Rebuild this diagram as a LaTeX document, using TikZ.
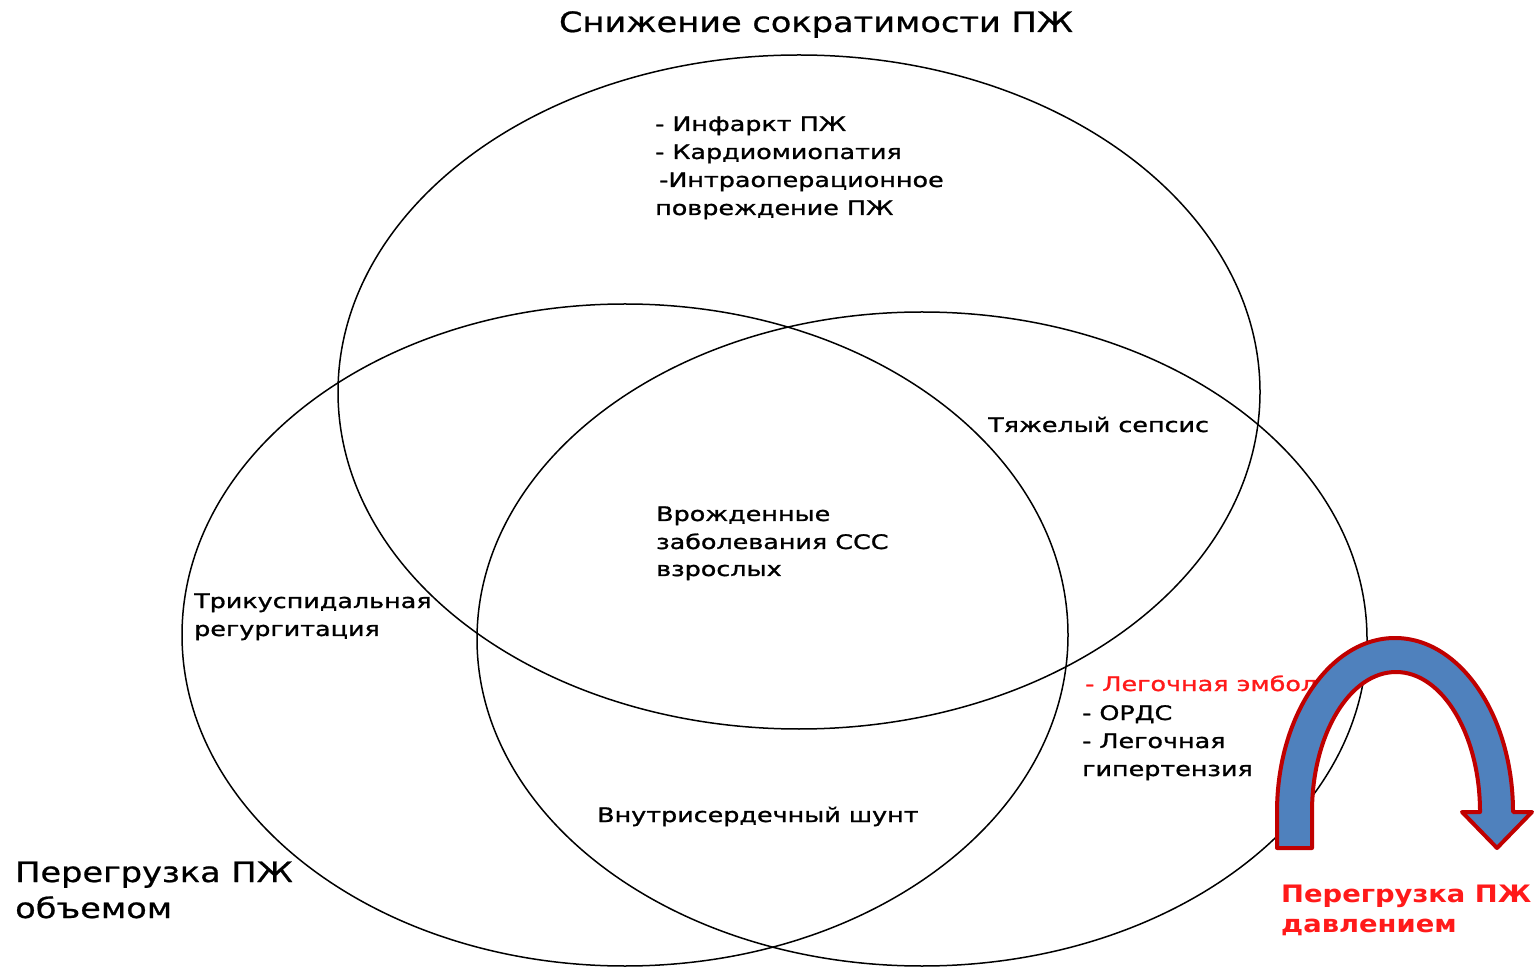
\documentclass[tikz,border=0pt]{standalone}
\usepackage{fontspec}
\setmainfont{DejaVu Sans}
\newfontfamily\bodyfont[FakeStretch=1.27,FakeBold=1.2]{DejaVu Sans}
\newfontfamily\titlefont[FakeStretch=1.2,FakeBold=0.8]{DejaVu Sans}
\newfontfamily\redfont[FakeStretch=1.14]{DejaVu Sans}
\definecolor{arrowblue}{HTML}{4F81BD}
\definecolor{arrowred}{HTML}{C00000}
\definecolor{txtred}{HTML}{FF1A1A}
\begin{document}
\begin{tikzpicture}[x=1pt,y=1pt,
  venn/.style={draw=black,line width=1.5pt},
  lbl/.style={anchor=base west,inner sep=0pt,font=\bodyfont\fontsize{20}{24}\selectfont},
  big/.style={anchor=base west,inner sep=0pt,font=\titlefont\fontsize{28}{32}\selectfont},
  redlbl/.style={anchor=base west,inner sep=0pt,text=txtred,font=\redfont\fontsize{24}{28}\selectfont\bfseries},
  bendarrow/.style={fill=arrowblue,draw=arrowred,line width=4pt,line join=round}]
\useasboundingbox (0,0) rectangle (1538,967);
% ellipses
\draw[venn] (799,575) ellipse[x radius=461,y radius=337];
\draw[venn] (625,332) ellipse[x radius=443,y radius=331];
\draw[venn] (922,328) ellipse[x radius=445,y radius=327];
% title
\node[anchor=base,inner sep=0pt,font=\titlefont\fontsize{28}{32}\selectfont] (title) at (816,935) {Снижение сократимости ПЖ};
% top group
\node[lbl] (t1) at (655,836) {- Инфаркт ПЖ};
\node[lbl] (t2) at (655,808) {- Кардиомиопатия};
\node[lbl] (t3) at (659,780) {-Интраоперационное};
\node[lbl] (t4) at (655,752) {повреждение ПЖ};
% sepsis
\node[lbl] (sep) at (988,535) {Тяжелый сепсис};
% centre
\node[lbl] (c1) at (656,446) {Врожденные};
\node[lbl] (c2) at (656,418) {заболевания ССС};
\node[lbl] (c3) at (656,391) {взрослых};
% tricuspid
\node[lbl] (tr1) at (194,359) {Трикуспидальная};
\node[lbl] (tr2) at (194,331) {регургитация};
% right group
\node[lbl,text=txtred] (r1) at (1085,276) {- Легочная эмбол};
\node[lbl] (r2) at (1082,247) {- ОРДС};
\node[lbl] (r3) at (1082,219) {- Легочная};
\node[lbl] (r4) at (1082,191) {гипертензия};
% shunt
\node[lbl] (sh) at (597,145) {Внутрисердечный шунт};
% volume overload
\node[big] (v1) at (15,85) {Перегрузка ПЖ};
\node[big] (v2) at (15,49) {объемом};
% pressure overload
\node[redlbl] (p1) at (1281,65) {Перегрузка ПЖ};
\node[redlbl] (p2) at (1281,35) {давлением};
% curved arrow
\draw[bendarrow] (1277,119) -- (1277,155) arc[start angle=180,end angle=0,x radius=118,y radius=174]
  -- (1532,155) -- (1497,119) -- (1462,155) -- (1480,155)
  arc[start angle=0,end angle=180,x radius=84,y radius=140] -- (1312,119) -- cycle;
\end{tikzpicture}
\end{document}
